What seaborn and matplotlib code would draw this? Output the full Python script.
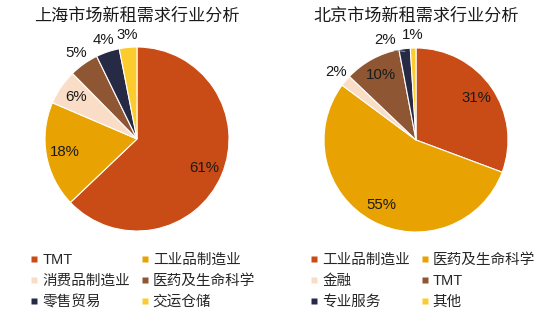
import numpy as np
import matplotlib
matplotlib.use("Agg")
import matplotlib.pyplot as plt
from matplotlib.lines import Line2D
import seaborn as sns

# ---- data ----
sh_title = "上海市场新租需求行业分析"
sh_labels = ["TMT", "工业品制造业", "消费品制造业", "医药及生命科学", "零售贸易", "交运仓储"]
sh_values = [61, 18, 6, 5, 4, 3]
sh_colors = ["#C94C16", "#E8A202", "#F9DDC6", "#8E5633", "#272A44", "#FCCB2E"]

bj_title = "北京市场新租需求行业分析"
bj_labels = ["工业品制造业", "医药及生命科学", "金融", "TMT", "专业服务", "其他"]
bj_values = [31, 55, 2, 10, 2, 1]
bj_colors = ["#C94C16", "#E8A202", "#F9DDC6", "#8E5633", "#272A44", "#FCCB2E"]

sns.set_theme(style="white")
plt.rcParams["font.family"] = ["Liberation Sans", "Noto Sans CJK SC", "DejaVu Sans"]

W, H = 554, 312
fig = plt.figure(figsize=(W / 100, H / 100), dpi=100)

R_PX = 92
LIM = 1.3


def make_ax(cx, cy):
    half = R_PX * LIM
    return fig.add_axes([(cx - half) / W, (H - cy - half) / H, 2 * half / W, 2 * half / H])


def draw_pie(ax, values, colors, title, tx, shift=None):
    shift = shift or {}
    palette = sns.color_palette(colors)
    wedges, _ = ax.pie(values, colors=palette, startangle=90, counterclock=False,
                       wedgeprops=dict(edgecolor="white", linewidth=0.8))
    total = sum(values)
    for i, (w, v) in enumerate(zip(wedges, values)):
        mid = np.deg2rad((w.theta1 + w.theta2) / 2)
        big = v / total >= 0.055
        d = 0.8 if big else 1.14
        ang = mid + np.deg2rad(shift.get(i, 0))
        x, y = d * np.cos(ang), d * np.sin(ang)
        ax.text(x, y, f"{v}%", ha="center", va="center", fontsize=10.8, color="#1a1a1a")
        if i in shift:
            ax.plot([1.0 * np.cos(ang) + 0.06, 0.97 * np.cos(mid)],
                    [1.02 * np.sin(ang), 0.97 * np.sin(mid)], color="#aaaaaa", lw=0.6)
    ax.set_xlim(-LIM, LIM)
    ax.set_ylim(-LIM, LIM)
    ax.set_aspect("equal")
    ax.axis("off")
    fig.text(tx / W, 1 - 16 / H, title, ha="center", va="center", fontsize=12.3, color="#1a1a1a")


ax1 = make_ax(137, 139)
draw_pie(ax1, sh_values, sh_colors, sh_title, 137)
ax2 = make_ax(416, 140)
draw_pie(ax2, bj_values, bj_colors, bj_title, 416, shift={4: 10})


def add_legend(labels, colors, x0, colsp):
    order = [0, 2, 4, 1, 3, 5]
    handles = [Line2D([], [], marker="s", ls="none", markersize=4.5,
                      markerfacecolor=colors[i], markeredgecolor="none") for i in order]
    labs = [labels[i] for i in order]
    fig.legend(handles, labs, ncol=2, loc="upper left",
               bbox_to_anchor=(x0 / W, 1 - 253 / H), frameon=False, fontsize=10.5,
               handlelength=0.6, handletextpad=0.25, columnspacing=colsp,
               labelspacing=0.48, borderpad=0, borderaxespad=0)


add_legend(sh_labels, sh_colors, 30, 0.7)
add_legend(bj_labels, bj_colors, 310, 0.7)

fig.savefig("out.png", dpi=100)
